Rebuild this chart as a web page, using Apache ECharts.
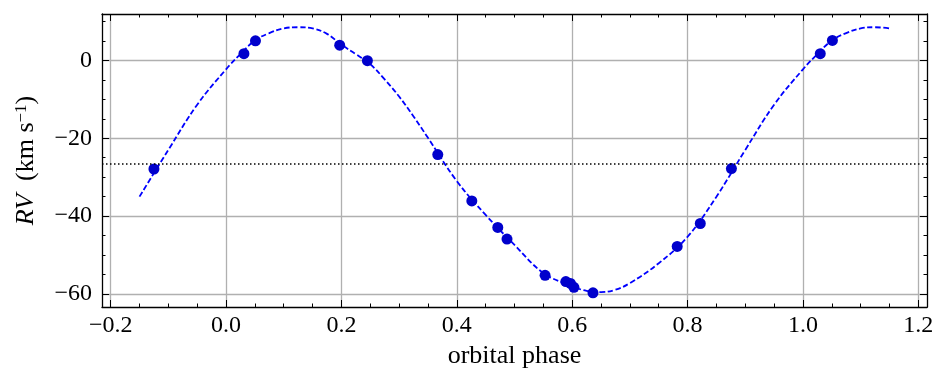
<!DOCTYPE html>
<html>
<head>
<meta charset="utf-8">
<script src="https://cdn.jsdelivr.net/npm/echarts@6/dist/echarts.min.js"></script>
<style>
html, body { margin: 0; padding: 0; background: #fff; }
#chart { width: 948px; height: 382px; }
</style>
</head>
<body>
<div id="chart"></div>
<script>
// fitted orbit curve
var curvePhase = [-0.15, -0.10, -0.05, 0.00, 0.025, 0.05, 0.075, 0.10, 0.125, 0.15, 0.175, 0.20, 0.225, 0.25,
                  0.275, 0.30, 0.325, 0.35, 0.40, 0.45, 0.50, 0.55, 0.60, 0.625, 0.65, 0.675, 0.70, 0.75, 0.80,
                  0.85, 0.90, 0.95, 1.00, 1.025, 1.05, 1.075, 1.10, 1.125, 1.15];
var curveRV = [-35.0, -23.0, -11.4, -2.3, 1.6, 5.1, 7.0, 8.2, 8.5, 8.2, 6.8, 4.0, 1.6, -1.0,
               -4.9, -9.3, -14.4, -19.9, -31.0, -39.7, -47.4, -54.6, -58.0, -59.2, -59.5, -58.9, -57.2, -52.1, -45.3,
               -35.0, -23.0, -11.4, -2.3, 1.6, 5.1, 7.0, 8.2, 8.5, 8.2];

// measured velocities
var obsPhase = [-0.125, 0.031, 0.051, 0.197, 0.245, 0.367, 0.426, 0.471, 0.487, 0.553,
                0.589, 0.597, 0.603, 0.636, 0.782, 0.822, 0.876, 1.030, 1.051];
var obsRV = [-27.9, 1.7, 5.0, 3.9, -0.1, -24.2, -36.1, -42.9, -45.9, -55.2,
             -56.8, -57.3, -58.3, -59.7, -47.8, -41.9, -27.8, 1.7, 5.1];

// systemic velocity
var gammaRV = -26.5;

var xMin = -0.215, xMax = 1.215;
var yMin = -63.34, yMax = 11.9;
var xMajor = [-0.2, 0.0, 0.2, 0.4, 0.6, 0.8, 1.0, 1.2];
var xMinor = [-0.2, -0.15, -0.1, -0.05, 0, 0.05, 0.1, 0.15, 0.2, 0.25, 0.3, 0.35, 0.4, 0.45, 0.5,
              0.55, 0.6, 0.65, 0.7, 0.75, 0.8, 0.85, 0.9, 0.95, 1.0, 1.05, 1.1, 1.15, 1.2];
var yMajor = [-60, -40, -20, 0];
var yMinor = [-60, -55, -50, -45, -40, -35, -30, -25, -20, -15, -10, -5, 0, 5, 10];

var FONT = '"Liberation Serif", "DejaVu Serif", serif';

function minus(s) { return s.replace('-', '\u2212'); }

function xAx(pos, ticks, len, main) {
    return {
        type: 'value', position: pos, min: xMin, max: xMax,
        axisLine: { show: main, onZero: false, lineStyle: { color: '#000', width: 1.3 } },
        axisTick: { show: true, inside: true, length: len, customValues: ticks, lineStyle: { color: '#000', width: 1 } },
        axisLabel: { show: false },
        splitLine: { show: false }
    };
}
function yAx(pos, ticks, len, main) {
    return {
        type: 'value', position: pos, min: yMin, max: yMax,
        axisLine: { show: main, onZero: false, lineStyle: { color: '#000', width: 1.3 } },
        axisTick: { show: true, inside: true, length: len, customValues: ticks, lineStyle: { color: '#000', width: 1 } },
        axisLabel: { show: false },
        splitLine: { show: false }
    };
}

var xBottom = xAx('bottom', xMajor, 7, true);
xBottom.axisLabel = {
    show: true, customValues: xMajor, margin: 7,
    color: '#000', fontFamily: FONT, fontSize: 24,
    formatter: function (v) { return minus(v.toFixed(1)); }
};
xBottom.splitLine = { show: true, lineStyle: { color: '#b0b0b0', width: 1.3 } };
xBottom.name = 'orbital phase';
xBottom.nameLocation = 'middle';
xBottom.nameGap = 34;
xBottom.nameTextStyle = { color: '#000', fontFamily: FONT, fontSize: 26 };

var yLeft = yAx('left', yMajor, 7, true);
yLeft.axisLabel = {
    show: true, customValues: yMajor, margin: 10,
    color: '#000', fontFamily: FONT, fontSize: 24,
    formatter: function (v) { return minus(String(Math.round(v))); }
};
yLeft.splitLine = { show: true, lineStyle: { color: '#b0b0b0', width: 1.3 } };
yLeft.name = '{i|RV}  (km s{sup|\u22121})';
yLeft.nameLocation = 'middle';
yLeft.nameGap = 62;
yLeft.nameRotate = 90;
yLeft.nameTextStyle = {
    color: '#000', fontFamily: FONT, fontSize: 26,
    rich: {
        i: { fontFamily: FONT, fontSize: 26, fontStyle: 'italic', color: '#000' },
        sup: { fontFamily: FONT, fontSize: 17, color: '#000', verticalAlign: 'top', padding: [0, 0, 10, 0] }
    }
};

var option = {
    animation: false,
    backgroundColor: '#fff',
    grid: { left: 102, right: 21, top: 14, bottom: 75 },
    xAxis: [
        xBottom,
        xAx('bottom', xMinor, 3.5, false),
        xAx('top', xMajor, 7, true),
        xAx('top', xMinor, 3.5, false)
    ],
    yAxis: [
        yLeft,
        yAx('left', yMinor, 3.5, false),
        yAx('right', yMajor, 7, true),
        yAx('right', yMinor, 3.5, false)
    ],
    series: [
        {
            type: 'line',
            data: curvePhase.map(function (p, i) { return [p, curveRV[i]]; }),
            showSymbol: false,
            smooth: 0.4,
            lineStyle: { color: '#0000ff', width: 1.8, type: [5.5, 2.6] },
            z: 3,
            markLine: {
                silent: true,
                symbol: 'none',
                label: { show: false },
                lineStyle: { color: '#000', width: 1.7, type: [1.5, 2.5] },
                data: [{ yAxis: gammaRV }]
            }
        },
        {
            type: 'scatter',
            data: obsPhase.map(function (p, i) { return [p, obsRV[i]]; }),
            symbol: 'circle',
            symbolSize: 11,
            itemStyle: { color: '#0000cc', opacity: 1 },
            z: 4
        }
    ]
};

var chart = echarts.init(document.getElementById('chart'), null, { renderer: 'canvas' });
chart.setOption(option);
</script>
</body>
</html>
